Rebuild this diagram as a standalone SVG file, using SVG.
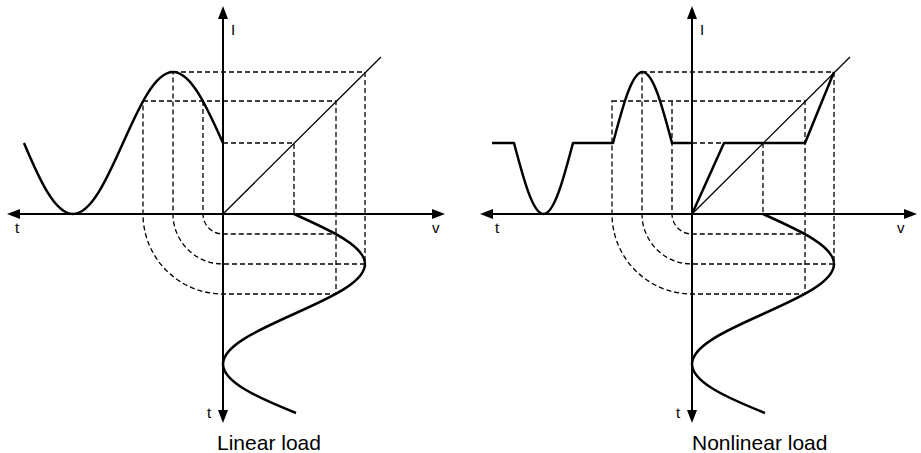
<svg xmlns="http://www.w3.org/2000/svg" width="921" height="453" viewBox="0 0 921 453">
  <style>
    .axis { stroke: #000; stroke-width: 2; fill: none; }
    .wave { stroke: #000; stroke-width: 2.5; fill: none; stroke-linejoin: round; }
    .thin { stroke: #000; stroke-width: 1.3; fill: none; }
    .dash { stroke: #000; stroke-width: 1.3; fill: none; stroke-dasharray: 5 3; }
    .lbl { font-family: "Liberation Sans", Arial, sans-serif; font-size: 15px; fill: #000; }
    .cap { font-family: "Liberation Sans", Arial, sans-serif; font-size: 21px; fill: #000; }
  </style>
  <defs>
    <marker id="arrow" viewBox="0 -5 13 10" markerWidth="13" markerHeight="10" refX="0" refY="0" markerUnits="userSpaceOnUse" orient="auto-start-reverse">
      <path d="M0,-5 L13,0 L0,5 Z" fill="#000"/>
    </marker>
  </defs>

  <g id="linear-panel">
    <g id="linear-dashed">
      <path class="dash" d="M173,72 H365 V264 H223 A50,50 0 0 1 173,214 Z"/>
      <path class="dash" d="M143,101 H336 V294 H223 A80,80 0 0 1 143,214 Z"/>
      <path class="dash" d="M203,101 V214 A20,20 0 0 0 223,234 H336"/>
      <path class="dash" d="M223,143 H294 V214"/>
    </g>
    <g id="linear-axes">
      <line class="axis" x1="20" y1="214" x2="432" y2="214" marker-start="url(#arrow)" marker-end="url(#arrow)"/>
      <line class="axis" x1="223" y1="19" x2="223" y2="410" marker-start="url(#arrow)" marker-end="url(#arrow)"/>
    </g>
    <g id="linear-curves">
      <path class="thin" d="M223,214 L381,57"/>
      <path class="wave" d="M223,143 C206.7,106.63 191.1,72 173,72 C154.9,72 139.3,106.63 123,143 C106.7,179.37 91.1,214 73,214 C54.9,214 39.3,179.37 24,143"/>
      <path class="wave" d="M294,214 C330.37,230.3 365,245.9 365,264 C365,282.1 330.37,297.7 294,314 C257.63,330.3 223,345.9 223,364 C223,382.1 257.63,397.7 296,413"/>
    </g>
    <g id="linear-labels">
      <text class="lbl" x="231" y="35">I</text>
      <text class="lbl" x="15" y="233">t</text>
      <text class="lbl" x="432" y="233">v</text>
      <text class="lbl" x="207" y="418">t</text>
      <text class="cap" x="217" y="450">Linear load</text>
    </g>
  </g>

  <g id="nonlinear-panel">
    <g id="nonlinear-dashed">
      <path class="dash" d="M642,72 H834 V264 H692 A50,50 0 0 1 642,214 Z"/>
      <path class="dash" d="M612,101 H805 V294 H692 A80,80 0 0 1 612,214 Z"/>
      <path class="dash" d="M672,101 V214 A20,20 0 0 0 692,234 H805"/>
      <path class="dash" d="M692,143 H724"/>
      <path class="dash" d="M763,143 V214"/>
    </g>
    <g id="nonlinear-axes">
      <line class="axis" x1="493" y1="214" x2="904" y2="214" marker-start="url(#arrow)" marker-end="url(#arrow)"/>
      <line class="axis" x1="692" y1="19" x2="692" y2="410" marker-start="url(#arrow)" marker-end="url(#arrow)"/>
    </g>
    <g id="nonlinear-curves">
      <path class="thin" d="M692,214 L850,57"/>
      <path class="wave" d="M692,214 L724,143 L805,143 L834,72"/>
      <path class="wave" d="M492,143 H514 C523.62,179.37 532.82,214 543.5,214 C554.18,214 563.38,179.37 573,143 H613 C622.62,106.63 631.82,72 642.5,72 C653.18,72 662.38,106.63 672,143 H692"/>
      <path class="wave" d="M763,214 C799.37,230.3 834,245.9 834,264 C834,282.1 799.37,297.7 763,314 C726.63,330.3 692,345.9 692,364 C692,382.1 726.63,397.7 765,413"/>
    </g>
    <g id="nonlinear-labels">
      <text class="lbl" x="700" y="35">I</text>
      <text class="lbl" x="495" y="233">t</text>
      <text class="lbl" x="897" y="233">v</text>
      <text class="lbl" x="676" y="418">t</text>
      <text class="cap" x="692" y="450">Nonlinear load</text>
    </g>
  </g>
</svg>
